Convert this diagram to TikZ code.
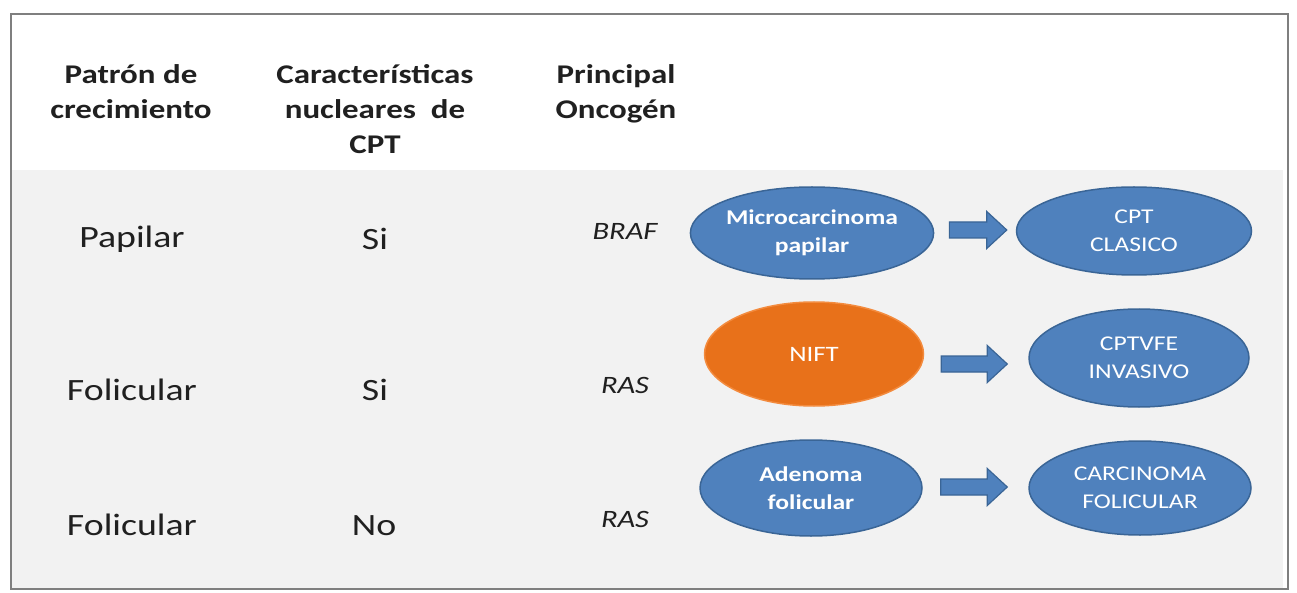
\documentclass[tikz,border=0pt]{standalone}
\usepackage{fontspec}
\setmainfont{Carlito}[FakeStretch=1.22]
\usetikzlibrary{shapes.geometric,calc}
\definecolor{cblue}{HTML}{4F81BD}
\definecolor{cblueb}{HTML}{3A6596}
\definecolor{corange}{HTML}{E8711A}
\definecolor{coranb}{HTML}{F38B3E}
\definecolor{cgray}{HTML}{F2F2F2}
\definecolor{cframe}{HTML}{7F7F7F}
\definecolor{ctext}{HTML}{202020}
\tikzset{
  hdr/.style={font=\bfseries\fontsize{27}{35}\selectfont, align=center, anchor=north, inner sep=0pt, text=ctext},
  rowlbl/.style={font=\fontsize{31}{36}\selectfont, anchor=base, inner sep=0pt, text=ctext},
  gene/.style={font=\itshape\fontsize{25}{30}\selectfont, anchor=base, inner sep=0pt, text=ctext},
  ell/.style={ellipse, draw=cblueb, line width=1.5pt, fill=cblue, text=white, align=center, inner sep=0pt,
     font=\fontsize{21}{28}\selectfont},
  ellb/.style={ell, font=\bfseries\fontsize{21}{28}\selectfont},
  ello/.style={ell, fill=corange, draw=coranb, font=\fontsize{22}{28}\selectfont},
  barrowstyle/.style={draw=cblueb, fill=cblue, line width=1.2pt, line join=miter}
}
\newcommand\blockarrow[2]{%
  \draw[barrowstyle] let \p1=(#1), \p2=(#2) in
   (\x1,\y1+8) -- (\x2-20,\y1+8) -- (\x2-20,\y1+18.5) -- (\x2,\y1) --
   (\x2-20,\y1-18.5) -- (\x2-20,\y1-8) -- (\x1,\y1-8) -- cycle;}
\begin{document}
\begin{tikzpicture}[x=1pt,y=-1pt]
\useasboundingbox (0,0) rectangle (1297,593);
\fill[white] (0,0) rectangle (1297,593);
% gray body
\fill[cgray] (12,170) rectangle (1283,588);
% frame
\draw[cframe, line width=2pt] (11,14) rectangle (1288,589);

% headers
\node[hdr] (h1) at (131,64) {Patrón de\\crecimiento};
\node[hdr] (h2) at (375,64) {Características\\nucleares\ \ de\\CPT};
\node[hdr] (h3) at (616,64) {Principal\\Oncogén};

% row labels
\node[rowlbl] (p1) at (132,248) {Papilar};
\node[rowlbl] (n1) at (375,250) {Si};
\node[gene]   (g1) at (625,240) {BRAF};
\node[rowlbl] (p2) at (132,400) {Folicular};
\node[rowlbl] (n2) at (375,400) {Si};
\node[gene]   (g2) at (625,393) {RAS};
\node[rowlbl] (p3) at (132,535) {Folicular};
\node[rowlbl] (n3) at (374,535) {No};
\node[gene]   (g3) at (625,527) {RAS};

% ellipses
\node[ellb, minimum width=221pt, minimum height=92pt] (m1) at (812,233) {Microcarcinoma\\papilar};
\node[ell,  minimum width=235pt, minimum height=88pt] (c1) at (1134,231) {CPT\\CLASICO};
\node[ello, minimum width=219pt, minimum height=104pt] (m2) at (814,354) {NIFT};
\node[ell,  minimum width=220pt, minimum height=98pt] (c2) at (1139,358) {CPTVFE\\INVASIVO};
\node[ellb, minimum width=222pt, minimum height=96pt] (m3) at (811,488) {Adenoma\\folicular};
\node[ell,  minimum width=222pt, minimum height=94pt] (c3) at (1140,488) {CARCINOMA\\FOLICULAR};

% arrows
\path (m1.east) ++(15,-3) coordinate (a1s);
\path (c1.west) ++(-9,-1) coordinate (a1e);
\path (m2.east) ++(17,10) coordinate (a2s);
\path (c2.west) ++(-21,6) coordinate (a2e);
\path (m3.east) ++(18,-1) coordinate (a3s);
\path (c3.west) ++(-21,-1) coordinate (a3e);
\blockarrow{a1s}{a1e}
\blockarrow{a2s}{a2e}
\blockarrow{a3s}{a3e}
\end{tikzpicture}
\end{document}
